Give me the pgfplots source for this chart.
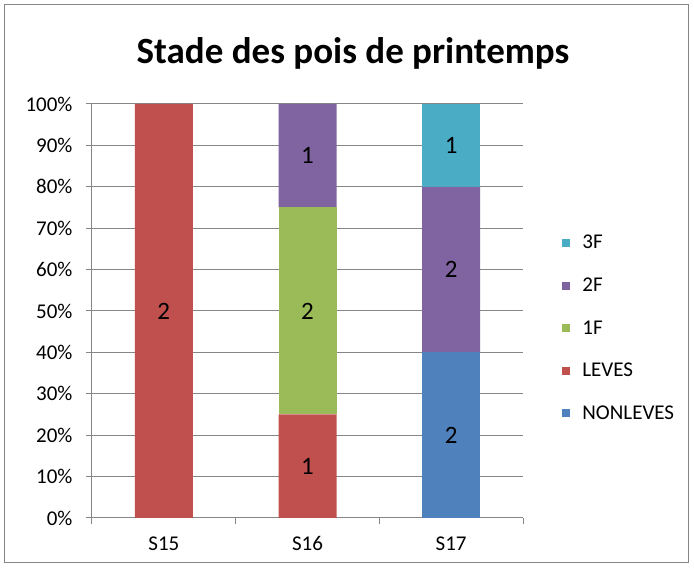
\documentclass[border=0pt]{standalone}
\usepackage{pgfplots}
\pgfplotsset{compat=1.18}
\usepackage{fontspec}
\setmainfont{Carlito}
\definecolor{cBlue}{HTML}{4F81BD}
\definecolor{cRed}{HTML}{C0504D}
\definecolor{cGreen}{HTML}{9BBB59}
\definecolor{cPurple}{HTML}{8064A2}
\definecolor{cCyan}{HTML}{4BACC6}
\definecolor{gridc}{HTML}{868686}
\definecolor{framec}{HTML}{868686}
\newcommand{\tfont}{\fontsize{21}{25}\selectfont}
\newcommand{\lfont}{\fontsize{25}{30}\selectfont}
\begin{document}
\begin{tikzpicture}[x=1pt,y=1pt]
\path (-92,-51) rectangle (602,518);
\draw[framec, line width=1pt] (-87,-45) rectangle (596,513);
\node[font=\fontsize{37}{44}\selectfont\bfseries] at (261,465) {Stade des pois de printemps};
\begin{axis}[at={(0,0)}, anchor=south west, scale only axis,
  width=431pt, height=414pt,
  ybar stacked, bar width=58pt,
  xmin=-0.5, xmax=2.5, ymin=0, ymax=100,
  axis x line*=bottom, axis y line*=left,
  axis line style={gridc, line width=1pt, -},
  tick align=outside, major tick length=6pt,
  tick style={gridc, line width=1pt},
  xtick={-0.5,0.5,1.5,2.5}, xticklabels={},
  extra x ticks={0,1,2}, extra x tick labels={S15,S16,S17},
  extra x tick style={major tick length=0pt, grid=none},
  xticklabel style={yshift=-15pt},
  ytick={0,10,...,100},
  yticklabel={\pgfmathprintnumber[assume math mode=true]{\tick}\%},
  yticklabel style={xshift=-10pt},
  ymajorgrids, grid style={gridc, line width=1pt},
  tick label style={font=\tfont, text=black},
  /pgf/number format/assume math mode=true,
  legend style={at={(1.091,0.688)}, anchor=north west, draw=none, fill=none,
    font=\tfont, row sep=23.5pt, column sep=10pt, inner sep=0pt,
    nodes={inner sep=2pt, anchor=west}},
  legend cell align=left,
  reverse legend,
  legend image code/.code={\fill[#1] (0pt,-4pt) rectangle (8pt,4pt);},
]
\addplot[fill=cBlue, draw=none] coordinates {(0,0) (1,0) (2,40)};
\addlegendentry{NONLEVES}
\addplot[fill=cRed, draw=none] coordinates {(0,100) (1,25) (2,0)};
\addlegendentry{LEVES}
\addplot[fill=cGreen, draw=none] coordinates {(0,0) (1,50) (2,0)};
\addlegendentry{1F}
\addplot[fill=cPurple, draw=none] coordinates {(0,0) (1,25) (2,40)};
\addlegendentry{2F}
\addplot[fill=cCyan, draw=none] coordinates {(0,0) (1,0) (2,20)};
\addlegendentry{3F}
\end{axis}
\begin{axis}[at={(0,0)}, anchor=south west, scale only axis,
  width=431pt, height=414pt,
  xmin=-0.5, xmax=2.5, ymin=0, ymax=100,
  axis lines=none, ticks=none]
\addplot[only marks, mark=none, nodes near coords, point meta=explicit symbolic,
  every node near coord/.style={font=\lfont, text=black, anchor=center}]
  coordinates {(0,50)[2] (1,12.5)[1] (1,50)[2] (1,87.5)[1] (2,20)[2] (2,60)[2] (2,90)[1]};
\end{axis}
\end{tikzpicture}
\end{document}
